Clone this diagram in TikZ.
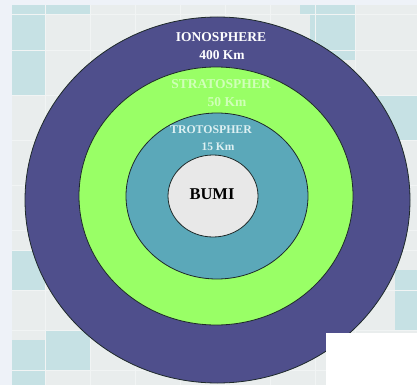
\documentclass[tikz,border=0pt]{standalone}
\usepackage{fontspec}
\setmainfont{Liberation Serif}
\usetikzlibrary{shapes.geometric}
\definecolor{bgbase}{HTML}{E9EDED}
\definecolor{bgedge}{HTML}{EEF2F8}
\definecolor{tile}{HTML}{C6E1E4}
\definecolor{tileline}{HTML}{F1F4F4}
\definecolor{iono}{HTML}{4F4F8C}
\definecolor{strato}{HTML}{99FF66}
\definecolor{tropo}{HTML}{5BA8B9}
\definecolor{earth}{HTML}{E8E8E8}
\definecolor{stratotext}{HTML}{D0FFB8}
\definecolor{tropotext}{HTML}{DDF0F2}
\definecolor{ringline}{HTML}{1E2A2A}
\tikzset{
  layer/.style={ellipse, draw=ringline, line width=0.8pt, inner sep=0pt},
  lbl/.style={font=\bfseries, inner sep=0pt, anchor=center},
  tilebox/.style={fill=tile, draw=none},
}
\begin{document}
\begin{tikzpicture}[x=1pt,y=-1pt]
\useasboundingbox (0,0) rectangle (417,385);
% background
\fill[bgedge] (0,0) rectangle (417,385);
\fill[bgbase] (12,5) rectangle (417,385);
\fill[tilebox] (12,5) rectangle (45,95);
\fill[tilebox] (45,5) rectangle (90,14);
\fill[tilebox] (300,5) rectangle (355,14);
\fill[tilebox] (310,14) rectangle (355,60);
\fill[tilebox] (355,95) rectangle (417,140);
\fill[tilebox] (12,250) rectangle (45,290);
\fill[tilebox] (45,330) rectangle (90,370);
\fill[tilebox] (395,270) rectangle (417,330);
\fill[tilebox] (12,340) rectangle (45,385);
\foreach \x in {45,90,135,180,225,270,315,355}
  \draw[tileline, line width=0.8pt] (\x,5) -- (\x,385);
\foreach \y in {14,50,95,140,185,230,250,290,330,370}
  \draw[tileline, line width=0.8pt] (12,\y) -- (417,\y);
% layers
\node[layer, fill=iono, minimum width=385pt, minimum height=366pt] (ionosphere) at (217.5,200) {};
\node[layer, fill=strato, minimum width=274pt, minimum height=258pt] (stratosphere) at (216,196) {};
\node[layer, fill=tropo, minimum width=182pt, minimum height=166pt] (troposphere) at (217,196) {};
\node[layer, fill=earth, minimum width=90pt, minimum height=82pt] (earth) at (213,196) {};
% white patch
\fill[white] (326,333) rectangle (417,385);
% labels
\node[lbl, text=white, font=\bfseries\fontsize{13.5}{14}\selectfont] (iononame) at (221,37) {IONOSPHERE};
\node[lbl, text=white, font=\bfseries\fontsize{13.5}{14}\selectfont] (ionokm) at (222,55) {400 Km};
\node[lbl, text=stratotext, font=\bfseries\fontsize{13.5}{14}\selectfont] (stratoname) at (221,84) {STRATOSPHER};
\node[lbl, text=stratotext, font=\bfseries\fontsize{13.5}{14}\selectfont] (stratokm) at (227,102) {50 Km};
\node[lbl, text=tropotext, font=\bfseries\fontsize{11.8}{12}\selectfont] (troponame) at (211,130) {TROTOSPHER};
\node[lbl, text=tropotext, font=\bfseries\fontsize{11.5}{12}\selectfont] (tropokm) at (218,147) {15 Km};
\node[lbl, text=black, font=\bfseries\fontsize{16.5}{17}\selectfont] (earthname) at (212,194) {BUMI};
\end{tikzpicture}
\end{document}
